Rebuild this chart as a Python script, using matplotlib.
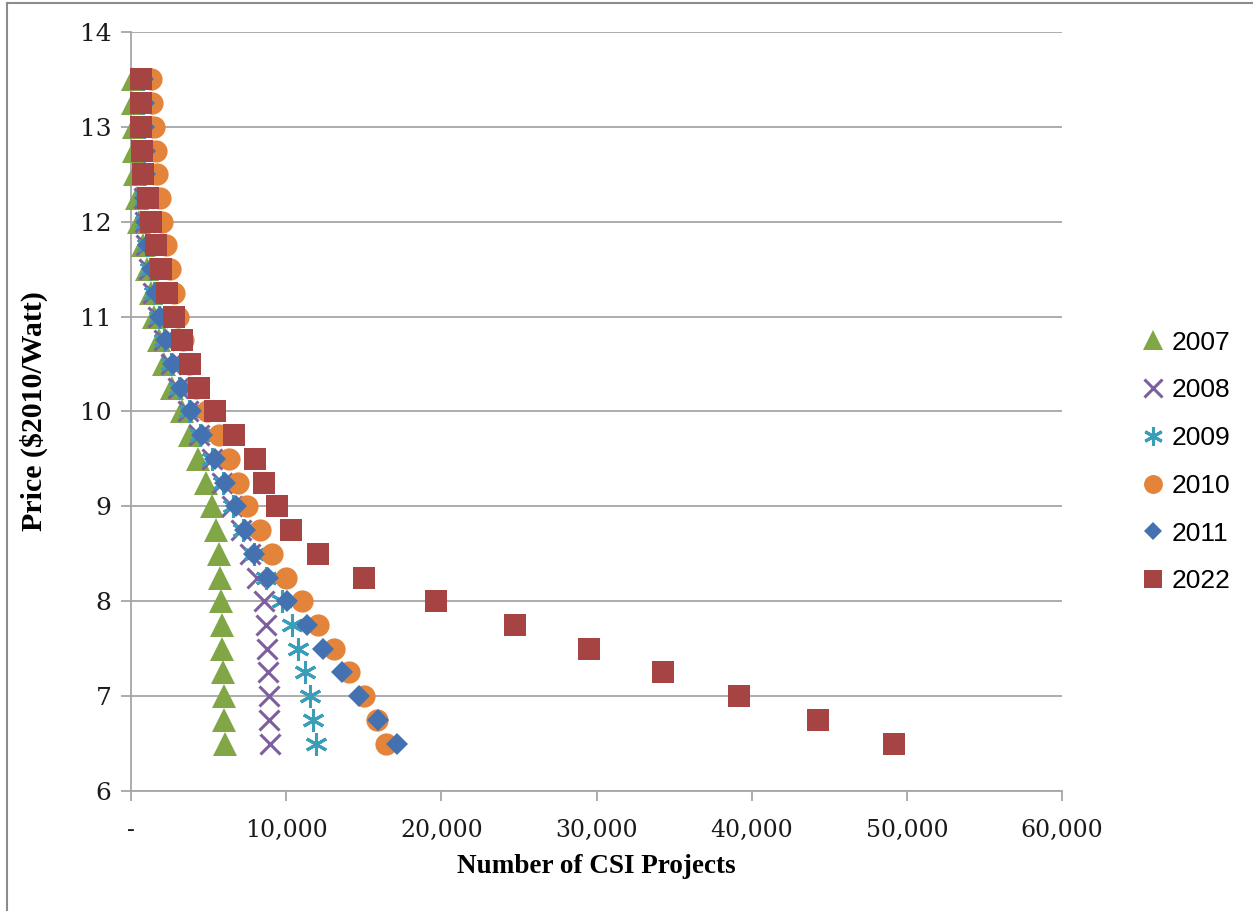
import matplotlib
matplotlib.use("Agg")
import matplotlib.pyplot as plt
from matplotlib.lines import Line2D
from matplotlib.ticker import FuncFormatter, MultipleLocator

# Price levels ($2010/Watt), top to bottom
prices = [13.5, 13.25, 13.0, 12.75, 12.5, 12.25, 12.0, 11.75, 11.5, 11.25,
          11.0, 10.75, 10.5, 10.25, 10.0, 9.75, 9.5, 9.25, 9.0, 8.75,
          8.5, 8.25, 8.0, 7.75, 7.5, 7.25, 7.0, 6.75, 6.5]

# Cumulative number of CSI projects at each price, by year
projects_2007 = [150, 150, 170, 200, 260, 380, 500, 800, 1050, 1300,
                 1480, 1800, 2130, 2650, 3300, 3800, 4350, 4850, 5250, 5500,
                 5650, 5750, 5800, 5880, 5880, 5930, 5980, 5980, 6080]
projects_2008 = [760, 780, 800, 820, 840, 860, 880, 980, 1180, 1450,
                 1750, 2100, 2550, 3050, 3700, 4400, 5200, 5850, 6500, 7100,
                 7700, 8150, 8600, 8700, 8740, 8800, 8890, 8920, 8960]
projects_2009 = [780, 800, 820, 840, 860, 880, 900, 1000, 1200, 1480,
                 1780, 2150, 2600, 3100, 3750, 4450, 5250, 5900, 6600, 7200,
                 7900, 8700, 9700, 10350, 10790, 11210, 11540, 11750, 11920]
projects_2010 = [1290, 1350, 1480, 1600, 1700, 1850, 2000, 2250, 2500, 2750,
                 3030, 3350, 3750, 4200, 4900, 5670, 6320, 6900, 7480, 8300,
                 9110, 10010, 11010, 12060, 13090, 14050, 14990, 15870, 16420]
projects_2011 = [800, 820, 850, 880, 900, 920, 950, 1100, 1350, 1600,
                 1870, 2260, 2710, 3220, 3870, 4580, 5410, 6060, 6770, 7350,
                 7930, 8850, 10030, 11320, 12400, 13580, 14700, 15940, 17120]
projects_2022 = [640, 640, 640, 740, 800, 1100, 1290, 1610, 1930, 2320,
                 2770, 3290, 3800, 4380, 5410, 6640, 7990, 8570, 9410, 10310,
                 12050, 15020, 19660, 24750, 29520, 34280, 39180, 44270, 49170]

years = ["2007", "2008", "2009", "2010", "2011", "2022"]
series = [projects_2007, projects_2008, projects_2009,
          projects_2010, projects_2011, projects_2022]

styles = [
    dict(marker="^", color="#80A646", ms=17, mew=0),
    dict(marker="x", color="#7D5FA0", ms=15, mew=2.2),
    dict(marker=(6, 2, 0), color="#3A9EB8", ms=16, mew=2.2),
    dict(marker="o", color="#E3843A", ms=16, mew=0),
    dict(marker="D", color="#4472B0", ms=11, mew=0),
    dict(marker="s", color="#A54442", ms=15.5, mew=0),
]

fig = plt.figure(figsize=(12.53, 9.11), dpi=100)
ax = fig.add_axes([131 / 1253, 120 / 911, (1062 - 131) / 1253, (791 - 32) / 911])

handles = []
for year, xs, st in zip(years, series, styles):
    h, = ax.plot(xs, prices, linestyle="none", marker=st["marker"],
                 color=st["color"], markersize=st["ms"],
                 markeredgewidth=st["mew"], markeredgecolor=st["color"],
                 label=year, zorder=3, clip_on=False)
    handles.append(h)

ax.set_xlim(0, 60000)
ax.set_ylim(6, 14)
ax.xaxis.set_major_locator(MultipleLocator(10000))
ax.yaxis.set_major_locator(MultipleLocator(1))
ax.xaxis.set_major_formatter(FuncFormatter(lambda v, p: "-" if v == 0 else f"{int(v):,}"))

ax.grid(axis="y", color="#A6A6A6", linewidth=1.3, zorder=0)
ax.set_axisbelow(True)
for side in ("top", "right"):
    ax.spines[side].set_visible(False)
for side in ("left", "bottom"):
    ax.spines[side].set_color("#A6A6A6")
    ax.spines[side].set_linewidth(1.3)

ax.tick_params(axis="both", direction="out", length=7, width=1.3,
               color="#A6A6A6", labelcolor="#1a1a1a")
ax.tick_params(axis="x", pad=13, labelsize=17)
ax.tick_params(axis="y", pad=7, labelsize=18)
for lab in ax.get_xticklabels() + ax.get_yticklabels():
    lab.set_fontfamily("DejaVu Serif")

ax.set_xlabel("Number of CSI Projects", fontfamily="Liberation Serif",
              fontweight="bold", fontsize=19.5, labelpad=9)
ax.set_ylabel("Price ($2010/Watt)", fontfamily="Liberation Serif",
              fontweight="bold", fontsize=21.5, labelpad=23)

fig.legend(handles=handles, labels=years, loc="center left",
           bbox_to_anchor=(1119 / 1253, 1 - 462 / 911), frameon=False,
           prop=dict(family="Liberation Sans", size=19),
           labelspacing=0.9, handlelength=0.8, handletextpad=0.3,
           markerscale=0.85, numpoints=1)

# outer frame edges
fig.add_artist(Line2D([7 / 1253, 7 / 1253], [0, 1 - 3 / 911],
                      transform=fig.transFigure, color="#8C8C8C", linewidth=1.5))
fig.add_artist(Line2D([7 / 1253, 1], [1 - 3 / 911, 1 - 3 / 911],
                      transform=fig.transFigure, color="#8C8C8C", linewidth=1.5))

fig.savefig("out.png", dpi=100, facecolor="white")
